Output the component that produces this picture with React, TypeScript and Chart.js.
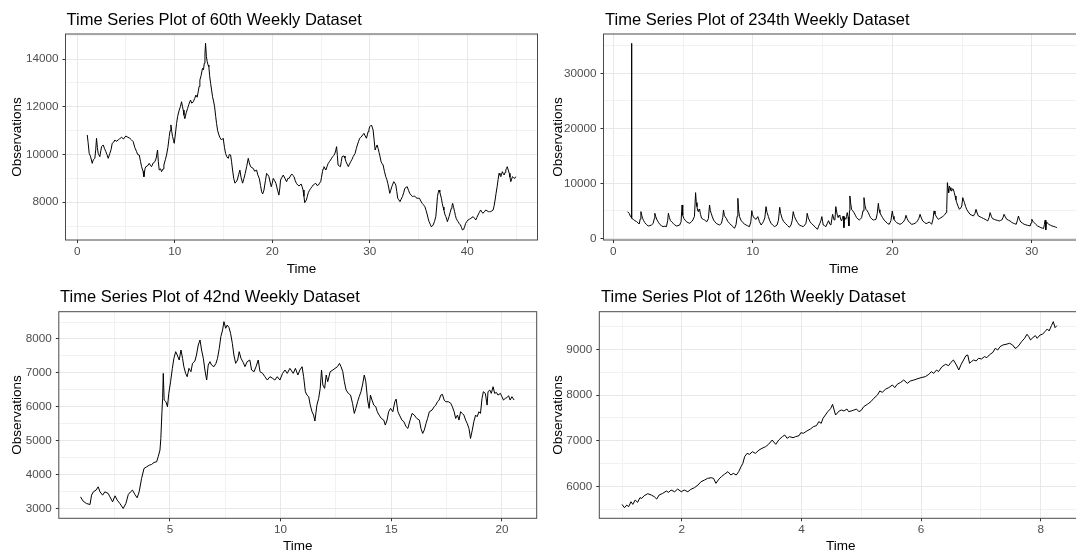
import React, { useEffect, useRef } from "react";
import { Chart, registerables } from "chart.js";

Chart.register(...registerables);

const FONT = '"Liberation Sans", Arial, Helvetica, sans-serif';
const CW = 1090;
const CH = 554;

// ---------- 60th weekly dataset ----------
const w60Time = [1.03,1.12,1.23,1.38,1.54,1.65,1.81,1.9,1.98,2.07,2.15,2.32,2.42,2.5,2.67,2.8,2.94,3.05,3.18,3.35,3.47,3.59,3.75,3.86,4.0,4.2,4.35,4.55,4.75,4.99,5.2,5.4,5.55,5.74,5.9,6.09,6.2,6.36,6.5,6.6,6.75,6.84,6.95,7.04,7.2,7.38,7.5,7.62,7.8,7.97,8.1,8.24,8.32,8.41,8.55,8.65,8.8,8.89,9.05,9.16,9.3,9.44,9.52,9.61,9.7,9.78,9.87,9.95,10.08,10.19,10.3,10.46,10.58,10.7,10.8,10.87,10.95,11.04,11.18,11.32,11.45,11.62,11.75,11.9,12.05,12.17,12.3,12.41,12.5,12.58,12.7,12.85,12.95,13.03,13.1,13.16,13.25,13.33,13.42,13.5,13.58,13.68,13.78,13.88,14.0,14.09,14.2,14.29,14.4,14.53,14.65,14.8,14.97,15.1,15.21,15.35,15.49,15.6,15.73,15.83,15.93,16.05,16.17,16.3,16.41,16.55,16.68,16.8,16.96,17.1,17.23,17.38,17.54,17.65,17.78,17.92,18.05,18.2,18.39,18.52,18.67,18.8,18.91,19.02,19.15,19.3,19.42,19.55,19.66,19.78,19.9,20.0,20.1,20.25,20.38,20.55,20.68,20.78,20.85,21.0,21.13,21.3,21.47,21.6,21.73,21.86,22.0,22.12,22.24,22.36,22.48,22.62,22.75,22.96,23.06,23.16,23.25,23.33,23.42,23.5,23.6,23.7,23.82,23.95,24.08,24.2,24.33,24.46,24.6,24.74,24.85,24.97,25.05,25.15,25.22,25.3,25.4,25.5,25.62,25.74,25.86,25.98,26.1,26.2,26.3,26.4,26.5,26.6,26.68,26.75,26.87,26.99,27.08,27.16,27.26,27.36,27.46,27.56,27.68,27.8,27.92,28.05,28.18,28.3,28.4,28.5,28.62,28.73,28.85,28.97,29.08,29.2,29.3,29.4,29.53,29.66,29.75,29.83,29.92,30.0,30.17,30.25,30.34,30.45,30.55,30.65,30.75,30.86,30.96,31.06,31.16,31.27,31.37,31.5,31.64,31.75,31.85,31.95,32.05,32.15,32.26,32.36,32.46,32.57,32.67,32.77,32.87,32.98,33.1,33.22,33.35,33.48,33.6,33.72,33.84,33.97,34.1,34.24,34.38,34.49,34.6,34.72,34.85,34.97,35.1,35.24,35.37,35.5,35.65,35.78,35.9,36.0,36.08,36.2,36.3,36.4,36.5,36.64,36.77,36.86,36.94,37.02,37.1,37.18,37.26,37.35,37.43,37.52,37.6,37.7,37.8,37.88,37.96,38.05,38.13,38.25,38.36,38.43,38.5,38.6,38.7,38.78,38.86,38.96,39.06,39.18,39.3,39.4,39.5,39.58,39.66,39.75,39.83,39.95,40.08,40.22,40.36,40.48,40.6,40.74,40.87,40.98,41.1,41.23,41.37,41.48,41.6,41.75,41.9,42.03,42.16,42.28,42.4,42.52,42.65,42.75,42.85,42.95,43.06,43.16,43.26,43.35,43.44,43.52,43.6,43.69,43.78,43.87,43.95,44.02,44.1,44.2,44.3,44.38,44.46,44.55,44.63,44.75,44.87,44.97];
const w60Obs = [10817,10500,10050,9900,9630,9780,9840,10200,10680,10300,10050,9910,10150,10330,10400,10250,10120,10000,9840,10050,10200,10470,10520,10610,10550,10610,10660,10720,10650,10775,10720,10680,10620,10540,10300,10120,10000,9980,9700,9490,9300,9070,9400,9490,9520,9630,9550,9490,9650,9700,9850,10190,9700,9350,9400,9280,9400,9560,9800,9980,10300,10750,11000,11240,10950,10750,10600,10470,10900,11300,11600,11860,12000,12210,12000,11860,11650,11500,11750,11930,12100,12280,12150,12210,12350,12490,12400,12630,12850,13120,13300,13610,13550,13820,14200,14660,14100,13890,13750,13680,13300,12980,12700,12420,12200,12000,11600,11300,11000,10820,10700,10610,10680,10300,10050,9900,9840,10000,9980,9700,9350,9000,8800,8850,8930,9150,9350,9050,8800,9000,9210,9500,9840,9650,9490,9450,9420,9300,9350,9150,9000,8700,8440,8350,8510,8900,9210,9150,9070,8850,8650,8800,9000,8900,8790,8500,8300,8600,8930,9050,9140,9000,8860,9000,9000,9100,9184,9120,9072,8900,8793,8720,8681,8765,8650,8514,8250,7983,8050,8095,8250,8402,8500,8584,8650,8723,8760,8793,8700,8723,8800,8863,9050,9281,9400,9491,9420,9351,9500,9630,9700,9770,9850,9910,9960,10021,10150,10330,9950,9560,9520,9491,9700,9910,9930,9938,9850,9700,9600,9491,9600,9700,9800,9910,9980,10050,10250,10400,10550,10680,10720,10775,10830,10887,10780,10680,10820,10957,11060,11166,11236,11150,11027,10600,10190,10300,10400,10250,10077,9900,9700,9620,9560,9300,9072,8950,8793,8600,8374,8500,8653,8760,8863,8800,8723,8450,8165,8100,8025,8130,8235,8400,8584,8620,8653,8500,8374,8300,8235,8250,8263,8200,8165,8170,8165,8050,7955,7900,7815,7650,7467,7300,7188,7080,6978,7000,7048,7200,7397,7800,8235,8400,8514,8420,8304,8150,7955,7800,7676,7500,7397,7300,7188,7300,7397,7580,7746,7850,7955,7780,7606,7450,7327,7250,7188,7100,7048,6950,6838,6870,6908,7000,7118,7190,7258,7290,7327,7360,7397,7330,7258,7360,7467,7570,7676,7600,7537,7600,7676,7640,7606,7610,7606,7640,7676,7850,8095,8370,8653,8950,9212,9140,9072,9180,9281,9200,9142,9250,9351,9420,9491,9350,9212,9050,8863,8970,9072,9030,9002,9072];
const w60XTicks = [0, 10, 20, 30, 40];
const w60XMinor = [5, 15, 25, 35, 45];
const w60YTicks = [8000, 10000, 12000, 14000];
const w60YMinor = [7000, 9000, 11000, 13000, 15000];

// ---------- 234th weekly dataset ----------
const w234Time = [1.02,1.14,1.24,1.29,1.31,1.33,1.43,1.55,1.67,1.78,1.86,1.93,1.98,2.04,2.1,2.18,2.26,2.38,2.5,2.62,2.74,2.86,2.94,2.98,3.05,3.14,3.24,3.33,3.45,3.57,3.7,3.81,3.9,3.95,4.02,4.1,4.2,4.29,4.4,4.52,4.64,4.76,4.86,4.93,4.98,5.05,5.15,5.24,5.36,5.48,5.6,5.71,5.82,5.9,5.95,6.0,6.05,6.1,6.15,6.19,6.26,6.33,6.45,6.55,6.63,6.71,6.82,6.9,6.96,7.02,7.1,7.19,7.28,7.38,7.5,7.62,7.75,7.85,7.9,7.96,8.02,8.1,8.2,8.33,8.45,8.57,8.69,8.8,8.88,8.93,8.98,9.05,9.15,9.29,9.4,9.52,9.64,9.76,9.86,9.93,9.98,10.05,10.12,10.24,10.36,10.48,10.6,10.68,10.76,10.86,10.95,11.02,11.12,11.2,11.31,11.43,11.55,11.65,11.74,11.84,11.93,12.0,12.1,12.2,12.33,12.48,12.62,12.74,12.82,12.9,12.98,13.1,13.2,13.33,13.48,13.62,13.72,13.81,13.86,13.9,13.98,14.1,14.2,14.33,14.48,14.64,14.72,14.81,14.88,14.95,15.0,15.05,15.14,15.24,15.34,15.43,15.53,15.6,15.72,15.83,15.89,15.95,16.0,16.06,16.12,16.18,16.24,16.3,16.36,16.42,16.48,16.53,16.58,16.67,16.72,16.77,16.83,16.89,16.93,16.96,17.02,17.08,17.16,17.25,17.35,17.44,17.54,17.63,17.72,17.8,17.9,17.97,18.04,18.11,18.2,18.28,18.36,18.44,18.54,18.64,18.74,18.83,18.92,19.0,19.05,19.11,19.2,19.3,19.42,19.55,19.66,19.78,19.9,20.0,20.06,20.12,20.22,20.31,20.42,20.55,20.67,20.79,20.9,20.98,21.06,21.15,21.27,21.39,21.5,21.63,21.72,21.8,21.9,21.99,22.08,22.18,22.3,22.42,22.54,22.66,22.74,22.82,22.92,22.99,23.06,23.13,23.22,23.3,23.4,23.49,23.58,23.66,23.76,23.85,23.9,23.95,24.0,24.04,24.09,24.14,24.2,24.26,24.32,24.38,24.44,24.5,24.56,24.62,24.72,24.81,24.9,24.98,25.05,25.1,25.17,25.25,25.33,25.45,25.57,25.7,25.81,25.92,26.0,26.08,26.17,26.3,26.41,26.53,26.65,26.75,26.84,26.94,27.01,27.1,27.18,27.3,27.42,27.55,27.66,27.76,27.85,27.94,28.01,28.1,28.2,28.32,28.44,28.56,28.68,28.78,28.88,28.97,29.04,29.12,29.21,29.33,29.45,29.57,29.69,29.8,29.88,29.95,30.0,30.08,30.17,30.3,30.41,30.53,30.65,30.75,30.84,30.9,30.96,31.0,31.05,31.12,31.2,31.32,31.44,31.52,31.6,31.7,31.8];
const w234Obs = [4850,4545,3940,3900,35450,3640,3450,3200,3030,2800,2600,3500,4850,4200,3640,3200,2850,2500,2240,2300,2420,2700,3600,4545,3900,3330,2900,2545,2300,2120,2200,2120,3200,4545,3800,3210,2950,2730,2450,2240,2300,2420,3000,6060,4200,3640,3300,3030,2850,2730,3000,3330,4000,8300,6500,5760,5000,4850,5300,5150,4300,3640,3450,3330,3150,3030,3600,6060,5000,4545,3900,3330,3000,2730,2550,2420,2700,3800,5150,4200,3900,3640,3100,2730,2400,2150,1820,2500,4000,7270,5200,3940,3300,2850,2600,2420,2250,2120,3000,5030,4300,3900,3640,3450,3940,3000,2420,2700,3030,3700,5760,4700,3940,3300,2730,2400,2120,2250,2420,3300,5640,4500,3640,3100,2730,2350,2000,2420,3200,4850,4000,3330,2900,2420,2250,2120,2400,2730,3500,4545,3700,3030,2700,2420,2000,1640,2200,2730,3200,3940,3100,2420,2300,2120,2700,3210,2545,2420,4360,3330,3450,5760,4970,4200,3760,4200,4060,3500,3150,3600,4060,1940,3800,3450,4000,4670,3900,2240,5000,7700,6300,5270,5000,4670,4200,3760,3500,3330,3500,3760,5000,7390,6000,5270,5000,4670,4200,3760,3500,3330,3380,3450,4500,6360,5200,4670,4200,3760,3300,2970,2700,2545,3200,4970,4000,3450,3100,2850,2700,2545,2700,2970,3400,4180,3600,3150,2800,2545,2600,2730,2900,3150,3600,4360,3700,3150,2900,2670,2800,2970,2750,2545,3500,4970,4400,4060,3700,3450,3600,3760,3900,4060,4300,4670,5200,10120,9000,8300,9500,9210,8700,8600,9000,8900,8300,7700,7000,6480,5800,5270,5500,5880,7390,7000,6480,5800,5270,4800,4360,4200,4060,4500,5270,4600,4060,3900,3760,3600,3450,3300,3150,3800,4670,4000,3580,3450,3330,3250,3150,3250,3330,3800,4360,3900,3450,3300,3150,2900,2730,2650,2545,3300,4060,3400,2970,2750,2545,2450,2360,2300,2240,2800,3450,3100,2850,2500,2240,2100,1940,1850,1760,2500,3330,1520,3000,2800,2545,2400,2240,2200,2120,2050,1940];
const w234XTicks = [0, 10, 20, 30];
const w234XMinor = [5, 15, 25];
const w234YTicks = [0, 10000, 20000, 30000];
const w234YMinor = [5000, 15000, 25000, 35000];

// ---------- 42nd weekly dataset ----------
const w42Time = [0.96,1.08,1.23,1.39,1.46,1.54,1.66,1.76,1.84,1.96,2.06,2.21,2.29,2.41,2.52,2.62,2.74,2.89,3.01,3.12,3.22,3.31,3.42,3.52,3.61,3.72,3.83,3.95,4.07,4.17,4.28,4.4,4.47,4.55,4.59,4.64,4.67,4.7,4.74,4.82,4.89,4.95,5.03,5.11,5.18,5.26,5.33,5.42,5.5,5.57,5.63,5.71,5.78,5.86,5.95,6.02,6.13,6.2,6.28,6.36,6.43,6.51,6.58,6.66,6.73,6.81,6.88,6.99,7.08,7.15,7.23,7.3,7.38,7.44,7.52,7.59,7.67,7.74,7.82,7.89,7.97,8.06,8.13,8.21,8.31,8.39,8.49,8.61,8.69,8.8,8.89,8.99,9.07,9.19,9.29,9.4,9.52,9.64,9.74,9.85,9.97,10.09,10.2,10.3,10.42,10.57,10.67,10.78,10.87,10.97,11.04,11.12,11.19,11.27,11.34,11.42,11.49,11.55,11.64,11.72,11.79,11.85,11.91,11.99,12.06,12.13,12.24,12.36,12.46,12.57,12.66,12.73,12.81,12.88,12.96,13.06,13.16,13.25,13.33,13.4,13.48,13.55,13.63,13.7,13.78,13.85,13.93,14.0,14.06,14.13,14.21,14.3,14.37,14.45,14.55,14.66,14.73,14.81,14.88,14.97,15.07,15.16,15.22,15.3,15.37,15.48,15.57,15.67,15.75,15.85,15.94,16.04,16.15,16.27,16.34,16.42,16.49,16.57,16.64,16.72,16.84,16.94,17.01,17.09,17.16,17.24,17.31,17.39,17.46,17.58,17.69,17.76,17.84,17.91,17.99,18.06,18.13,18.21,18.28,18.36,18.43,18.51,18.58,18.66,18.73,18.81,18.88,18.96,19.03,19.1,19.16,19.25,19.33,19.37,19.45,19.52,19.6,19.67,19.75,19.82,19.93,20.0,20.07,20.15,20.22,20.3,20.37,20.45,20.55];
const w42Obs = [3344,3216,3147,3118,3394,3492,3541,3640,3492,3394,3492,3443,3344,3196,3374,3246,3147,3000,3147,3413,3492,3541,3413,3315,3492,3886,4181,4230,4279,4299,4358,4378,4525,4722,5067,5854,6248,6986,6199,6150,6002,6396,6740,7134,7429,7626,7528,7380,7675,7429,7183,6986,6888,7134,7035,7281,7350,7528,7823,7970,7675,7429,7085,6789,7232,7331,7232,7183,7281,7429,7724,8069,8266,8512,8315,8413,8335,8167,7872,7528,7281,7380,7626,7429,7311,7183,7331,7380,7085,7035,7183,7380,7035,6986,6888,6789,6888,6838,6789,6888,6789,6986,7085,6986,7134,6986,7134,6937,7085,7183,6888,6445,6346,6297,6051,5854,5756,5579,6051,6248,6543,7085,6642,6543,6937,6740,7035,7085,7134,7183,7281,7183,7035,6740,6494,6396,6346,6100,5805,5953,6150,6297,6445,6642,6937,6740,6199,5953,6346,6199,6051,6002,5854,5756,5657,5608,5461,5608,5854,5953,5854,6150,6228,5854,5756,5608,5559,5412,5362,5608,5805,5756,5657,5608,5362,5214,5313,5510,5657,5854,5903,6002,6051,6150,6199,6346,6366,6199,6150,6150,6100,6002,5854,5657,5756,5608,5854,5805,5756,5608,5510,5362,5067,5313,5559,5756,5707,5854,5805,6248,6445,6396,6051,6445,6494,6396,6592,6396,6425,6346,6396,6297,6199,6248,6268,6327,6199,6297,6199];
const w42XTicks = [5, 10, 15, 20];
const w42XMinor = [2.5, 7.5, 12.5, 17.5];
const w42YTicks = [3000, 4000, 5000, 6000, 7000, 8000];
const w42YMinor = [3500, 4500, 5500, 6500, 7500, 8500];

// ---------- 126th weekly dataset ----------
const w126Time = [1.0,1.04,1.08,1.11,1.15,1.18,1.22,1.26,1.3,1.33,1.37,1.43,1.49,1.54,1.58,1.62,1.68,1.74,1.78,1.82,1.88,1.93,1.99,2.04,2.1,2.15,2.21,2.27,2.32,2.38,2.43,2.49,2.53,2.57,2.62,2.66,2.71,2.77,2.82,2.86,2.91,2.95,2.99,3.02,3.05,3.09,3.13,3.18,3.23,3.29,3.34,3.4,3.45,3.51,3.57,3.62,3.68,3.72,3.76,3.8,3.86,3.9,3.96,3.99,4.03,4.09,4.15,4.2,4.25,4.29,4.33,4.36,4.4,4.44,4.49,4.52,4.57,4.63,4.67,4.71,4.76,4.79,4.83,4.88,4.92,4.96,5.0,5.04,5.1,5.16,5.21,5.27,5.31,5.35,5.41,5.46,5.52,5.56,5.6,5.66,5.71,5.77,5.82,5.88,5.93,6.0,6.07,6.13,6.17,6.21,6.26,6.29,6.35,6.41,6.46,6.5,6.54,6.59,6.63,6.67,6.71,6.75,6.78,6.81,6.84,6.88,6.92,6.96,7.01,7.06,7.1,7.14,7.2,7.24,7.28,7.32,7.37,7.42,7.48,7.53,7.57,7.6,7.64,7.68,7.73,7.77,7.8,7.83,7.87,7.91,7.94,7.99,8.03,8.07,8.11,8.14,8.18,8.21,8.24,8.27];
const w126Obs = [5614,5541,5600,5563,5672,5614,5709,5658,5760,5745,5803,5847,5818,5781,5730,5818,5854,5905,5876,5927,5890,5949,5890,5927,5890,5942,5978,6036,6109,6146,6182,6196,6182,6073,6167,6218,6269,6328,6255,6291,6255,6328,6437,6510,6655,6728,6706,6764,6728,6801,6837,6874,6925,7019,6925,7019,7092,7129,7056,7092,7070,7092,7114,7180,7165,7216,7260,7311,7332,7420,7383,7493,7565,7638,7711,7798,7565,7653,7675,7653,7696,7638,7653,7675,7696,7638,7667,7747,7798,7857,7930,8002,8090,8061,8133,8163,8221,8163,8235,8279,8330,8257,8308,8330,8352,8381,8403,8454,8512,8476,8549,8512,8621,8672,8643,8716,8767,8658,8549,8672,8767,8862,8876,8694,8731,8767,8745,8803,8789,8840,8818,8876,8934,9022,8985,9058,9095,9109,9131,9095,9022,9036,9095,9167,9240,9328,9277,9204,9255,9299,9240,9313,9328,9386,9444,9401,9517,9604,9473,9517];
const w126XTicks = [2, 4, 6, 8];
const w126XMinor = [1, 3, 5, 7];
const w126YTicks = [6000, 7000, 8000, 9000];
const w126YMinor = [5500, 6500, 7500, 8500, 9500];

// ---------- panel layout ----------
type Panel = {
  key: string;
  title: string;
  time: number[];
  obs: number[];
  xTicks: number[];
  xMinor: number[];
  yTicks: number[];
  yMinor: number[];
  xMin: number;
  xMax: number;
  yMin: number;
  yMax: number;
  box: { l: number; r: number; t: number; b: number };
  axisLeft: number;
  axisBottom: number;
  yTitlePad: number;
  xTitlePad: number;
  titleX: number;
  titleY: number;
};

const panels: Panel[] = [
  {
    key: "w60", title: "Time Series Plot of 60th Weekly Dataset",
    time: w60Time, obs: w60Obs, xTicks: w60XTicks, xMinor: w60XMinor, yTicks: w60YTicks, yMinor: w60YMinor,
    xMin: -1.2, xMax: 47.2, yMin: 6419, yMax: 15048,
    box: { l: 65.5, r: 537.5, t: 34, b: 240 }, axisLeft: 0, axisBottom: 277,
    yTitlePad: 8.7, xTitlePad: 0.7, titleX: 66.5, titleY: 24.5,
  },
  {
    key: "w234", title: "Time Series Plot of 234th Weekly Dataset",
    time: w234Time, obs: w234Obs, xTicks: w234XTicks, xMinor: w234XMinor, yTicks: w234YTicks, yMinor: w234YMinor,
    xMin: -0.7, xMax: 33.74, yMin: -309, yMax: 37145,
    box: { l: 603.5, r: 1084, t: 34, b: 240 }, axisLeft: 538, axisBottom: 277,
    yTitlePad: 12.4, xTitlePad: 0.7, titleX: 605, titleY: 24.5,
  },
  {
    key: "w42", title: "Time Series Plot of 42nd Weekly Dataset",
    time: w42Time, obs: w42Obs, xTicks: w42XTicks, xMinor: w42XMinor, yTicks: w42YTicks, yMinor: w42YMinor,
    xMin: -0.02, xMax: 21.57, yMin: 2711, yMax: 8805,
    box: { l: 58.8, r: 536.7, t: 311.7, b: 518.3 }, axisLeft: 0, axisBottom: 554,
    yTitlePad: 8.7, xTitlePad: 1.0, titleX: 60, titleY: 301.5,
  },
  {
    key: "w126", title: "Time Series Plot of 126th Weekly Dataset",
    time: w126Time, obs: w126Obs, xTicks: w126XTicks, xMinor: w126XMinor, yTicks: w126YTicks, yMinor: w126YMinor,
    xMin: 0.62, xMax: 8.69, yMin: 5310, yMax: 9821,
    box: { l: 599.3, r: 1082, t: 311.7, b: 518.3 }, axisLeft: 538, axisBottom: 554,
    yTitlePad: 12.1, xTitlePad: 1.0, titleX: 601, titleY: 302,
  },
];

const align = (v: number) => Math.round(v - 0.5) + 0.5;

function panelPlugin(p: Panel) {
  return {
    id: "panelDecor_" + p.key,
    beforeDraw(chart: any) {
      const { ctx, chartArea: a, scales } = chart;
      const x = scales.x;
      const y = scales.y;
      ctx.save();
      ctx.strokeStyle = "#f2f2f2";
      ctx.lineWidth = 1;
      ctx.beginPath();
      p.xMinor.forEach((v) => {
        const px = align(x.getPixelForValue(v));
        if (px >= a.left && px <= a.right) {
          ctx.moveTo(px, a.top);
          ctx.lineTo(px, a.bottom);
        }
      });
      p.yMinor.forEach((v) => {
        const py = align(y.getPixelForValue(v));
        if (py >= a.top && py <= a.bottom) {
          ctx.moveTo(a.left, py);
          ctx.lineTo(a.right, py);
        }
      });
      ctx.stroke();
      ctx.restore();
    },
    afterDraw(chart: any) {
      const { ctx, chartArea: a } = chart;
      ctx.save();
      ctx.strokeStyle = "#4a4a4a";
      ctx.lineWidth = 1;
      ctx.strokeRect(a.left, a.top, a.right - a.left, a.bottom - a.top);
      ctx.fillStyle = "#000000";
      ctx.font = `16.5px ${FONT}`;
      ctx.textBaseline = "alphabetic";
      ctx.textAlign = "left";
      ctx.fillText(p.title, p.titleX, p.titleY);
      ctx.restore();
    },
  };
}

function zeroPad(s: any) {
  s.paddingLeft = 0;
  s.paddingRight = 0;
  s.paddingTop = 0;
  s.paddingBottom = 0;
}

function makeConfig(p: Panel): any {
  const pts = p.time.map((t, i) => ({ x: t, y: p.obs[i] }));
  const tickFont = { family: FONT, size: 11.7 };
  const titleFont = { family: FONT, size: 13.5 };
  const grid = {
    color: "#e8e8e8",
    lineWidth: 1,
    drawTicks: true,
    tickLength: 3,
    tickColor: "#333333",
    tickWidth: 1,
  };
  return {
    type: "line",
    data: {
      datasets: [
        {
          data: pts,
          borderColor: "#000000",
          borderWidth: 1,
          pointRadius: 0,
          tension: 0,
          fill: false,
        },
      ],
    },
    options: {
      responsive: false,
      animation: false,
      events: [],
      layout: {
        padding: {
          left: p.axisLeft,
          right: CW - p.box.r,
          top: p.box.t,
          bottom: CH - p.axisBottom,
        },
      },
      plugins: {
        legend: { display: false },
        tooltip: { enabled: false },
        title: { display: false },
      },
      scales: {
        x: {
          type: "linear",
          position: "bottom",
          min: p.xMin,
          max: p.xMax,
          afterBuildTicks: (s: any) => {
            s.ticks = p.xTicks.map((v) => ({ value: v }));
          },
          afterFit: (s: any) => {
            s.height = p.axisBottom - p.box.b;
            zeroPad(s);
          },
          ticks: {
            callback: (v: any) => String(v),
            font: tickFont,
            color: "#4d4d4d",
            padding: 1.5,
            maxRotation: 0,
            autoSkip: false,
          },
          grid,
          border: { display: false },
          title: {
            display: true,
            text: "Time",
            font: titleFont,
            color: "#000000",
            padding: { top: p.xTitlePad, bottom: 0 },
          },
        },
        y: {
          type: "linear",
          position: "left",
          min: p.yMin,
          max: p.yMax,
          afterBuildTicks: (s: any) => {
            s.ticks = p.yTicks.map((v) => ({ value: v }));
          },
          afterFit: (s: any) => {
            s.width = p.box.l - p.axisLeft;
            zeroPad(s);
          },
          ticks: {
            callback: (v: any) => String(v),
            font: tickFont,
            color: "#4d4d4d",
            padding: 4,
            autoSkip: false,
          },
          grid,
          border: { display: false },
          title: {
            display: true,
            text: "Observations",
            font: titleFont,
            color: "#000000",
            padding: { top: p.yTitlePad, bottom: 0 },
          },
        },
      },
    },
    plugins: [panelPlugin(p)],
  };
}

function PanelChart({ p }: { p: Panel }) {
  const ref = useRef<HTMLCanvasElement | null>(null);
  useEffect(() => {
    if (!ref.current) return;
    const chart = new Chart(ref.current, makeConfig(p));
    return () => chart.destroy();
  }, [p]);
  return (
    <canvas
      ref={ref}
      width={CW}
      height={CH}
      style={{ position: "absolute", left: 0, top: 0, width: CW, height: CH, display: "block" }}
    />
  );
}

export default function App() {
  return (
    <div
      style={{
        position: "fixed",
        left: 0,
        top: 0,
        width: 1076,
        height: 554,
        overflow: "hidden",
        background: "#ffffff",
      }}
    >
      {panels.map((p) => (
        <PanelChart key={p.key} p={p} />
      ))}
    </div>
  );
}
